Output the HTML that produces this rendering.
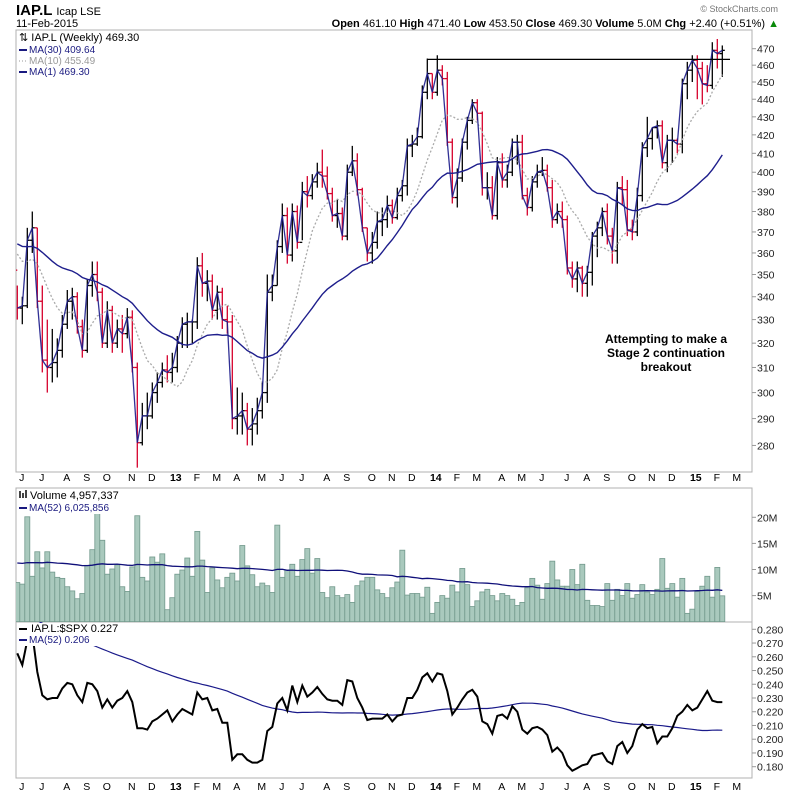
<!DOCTYPE html>
<html><head><meta charset="utf-8"><title>IAP.L Weekly chart</title>
<style>
html,body{margin:0;padding:0;background:#fff;}
svg{display:block;font-family:"Liberation Sans",sans-serif;}
</style></head>
<body>
<svg id="chart" width="800" height="795" viewBox="0 0 800 795" xmlns="http://www.w3.org/2000/svg">
<defs>
<clipPath id="clipPrice"><rect x="16" y="30" width="736" height="442"/></clipPath>
<clipPath id="clipVol"><rect x="16" y="488" width="736" height="134"/></clipPath>
<clipPath id="clipRatio"><rect x="16" y="622" width="736" height="156"/></clipPath>
</defs>
<rect x="0" y="0" width="800" height="795" fill="#fff"/>
<text x="16" y="15" font-size="15" font-weight="bold" fill="#000">IAP.L <tspan font-size="11" font-weight="normal">Icap LSE</tspan></text>
<text x="16" y="27" font-size="11" fill="#000">11-Feb-2015</text>
<text x="778" y="12" font-size="9" fill="#777" text-anchor="end">© StockCharts.com</text>
<text x="779" y="27" font-size="11" fill="#000" text-anchor="end"><tspan font-weight="bold">Open</tspan> 461.10 <tspan font-weight="bold">High</tspan> 471.40 <tspan font-weight="bold">Low</tspan> 453.50 <tspan font-weight="bold">Close</tspan> 469.30 <tspan font-weight="bold">Volume</tspan> 5.0M <tspan font-weight="bold">Chg</tspan> +2.40 (+0.51%) <tspan fill="#0a8a0a">▲</tspan></text>

<rect x="16" y="30" width="736" height="442" fill="none" stroke="#b0b0b0"/>
<rect x="16" y="488" width="736" height="134" fill="none" stroke="#b0b0b0"/>
<rect x="16" y="622" width="736" height="156" fill="none" stroke="#b0b0b0"/>

<g id="priceG" clip-path="url(#clipPrice)"></g>
<g id="volG" clip-path="url(#clipVol)"></g>
<g id="ratioG" clip-path="url(#clipRatio)"></g>
<g id="axisG"></g>

<g font-size="10">
<rect x="17" y="31" width="148" height="50" fill="#fff"/>
<text x="19" y="41" fill="#000" font-size="11">⇅ IAP.L (Weekly) 469.30</text>
<line x1="19" y1="50" x2="27" y2="50" stroke="#1a1a80" stroke-width="2"/><text x="29" y="53" fill="#1a1a80">MA(30) 409.64</text>
<line x1="19" y1="61" x2="27" y2="61" stroke="#999" stroke-width="1" stroke-dasharray="1,2"/><text x="29" y="64" fill="#999">MA(10) 455.49</text>
<line x1="19" y1="72" x2="27" y2="72" stroke="#1a1a80" stroke-width="2"/><text x="29" y="75" fill="#1a1a80">MA(1) 469.30</text>
</g>
<g>
<rect x="17" y="489" width="115" height="25" fill="#fff"/>
<rect x="19" y="491" width="2" height="7" fill="#444"/><rect x="22" y="493" width="2" height="5" fill="#444"/><rect x="25" y="490" width="2" height="8" fill="#444"/>
<text x="30" y="499" font-size="11" fill="#000">Volume 4,957,337</text>
<line x1="19" y1="508" x2="27" y2="508" stroke="#1a1a80" stroke-width="2"/><text x="29" y="511" font-size="10" fill="#1a1a80">MA(52) 6,025,856</text>
</g>
<g>
<rect x="17" y="623" width="112" height="23" fill="#fff"/>
<line x1="19" y1="629" x2="27" y2="629" stroke="#000" stroke-width="2"/><text x="31" y="632" font-size="11" fill="#000">IAP.L:$SPX 0.227</text>
<line x1="19" y1="640" x2="27" y2="640" stroke="#1a1a80" stroke-width="2"/><text x="29" y="643" font-size="10" fill="#1a1a80">MA(52) 0.206</text>
</g>
<g font-size="12" font-weight="bold" fill="#000" text-anchor="middle">
<text x="666" y="343">Attempting to make a</text>
<text x="666" y="357">Stage 2 continuation</text>
<text x="666" y="371">breakout</text>
</g>

<script>
var priorCloses = [372,370,368,366,369,372,375,371,366,362,360,364,368,370,366,362,358,361,365,368,370,366,362,360,364,366,362,358,352];
var closes = [335,336,366,372,338,313,310,312,317,328,
338,340,327,317,345,350,342,320,334,320,
326,324,331,310,281,291,291,300,304,309,
308,310,320,328,329,329,354,346,347,334,
342,330,329,290,291,293,286,288,293,300,
342,345,363,378,359,380,365,390,388,395,
400,398,389,378,379,368,400,406,391,372,
360,365,375,376,383,377,388,393,414,415,
419,444,455,444,457,452,416,387,397,416,
428,438,432,392,392,378,405,396,400,416,
416,388,382,395,400,401,392,376,380,376,
353,348,353,346,351,368,372,380,368,361,
392,391,371,370,388,413,418,424,425,405,
417,417,415,449,457,463,458,449,448,469,
467,469];
var highs = [345,340,372,380,372,345,330,326,322,332,
343,344,342,330,348,356,356,344,338,336,
330,332,335,334,312,296,300,304,308,312,
315,316,323,331,333,330,358,360,352,350,
345,344,336,332,302,300,296,294,298,304,
350,350,366,384,382,384,383,395,398,399,
405,412,403,392,386,382,404,414,410,392,
372,370,380,382,388,386,392,396,418,420,
424,448,464,455,466,460,456,418,402,418,
430,440,440,433,400,398,408,410,404,418,
420,420,392,398,404,408,404,396,384,385,
378,356,356,354,354,370,375,382,384,372,
395,398,396,376,392,416,430,424,428,428,
420,424,418,452,462,466,466,462,460,474,
476,472];
var lows = [330,328,335,360,335,308,300,304,306,314,
326,330,324,314,316,340,338,318,318,316,
318,316,322,308,272,280,286,290,296,302,
304,304,308,318,318,320,326,340,338,330,
330,326,324,286,284,284,280,280,284,290,
296,338,345,360,355,356,362,366,382,386,
392,392,386,375,372,366,366,398,388,370,
356,355,362,368,372,374,376,385,388,408,
414,418,440,440,442,448,414,384,382,395,
412,426,428,388,386,376,376,392,392,398,
404,386,378,380,392,398,390,372,374,372,
350,344,342,340,340,345,358,368,364,355,
355,383,368,366,368,385,408,412,418,402,
400,405,410,410,440,450,440,437,444,446,
458,453];
var priorVolume = [11,12,10,13,11,9,12,14,10,11,12,9,13,11,10,12,11,14,10,9,12,11,13,10,11,12,9,11,13,12,10,11,12,14,9,10,12,11,13,12,10,11,12,13,11,10,12,11,12,11,12];
var volumes = [7.5,7.2,20.1,8.7,13.4,10.3,13.4,9.5,8.5,8.3,
6.7,5.9,4.4,5.4,10.8,13.8,21.2,15.6,9.1,10.1,
10.9,6.7,5.8,10.5,20.3,8.5,7.8,12.4,11.4,13.0,
2.3,4.6,9.1,9.9,12.2,8.7,17.3,11.8,5.6,10.3,
8.0,6.5,8.5,9.3,7.8,14.6,10.7,9.0,6.7,7.4,
6.9,5.6,18.5,8.5,9.9,11.0,8.7,11.9,14.0,9.3,
12.1,5.6,4.6,6.7,5.0,4.6,5.2,3.7,6.9,7.8,
8.5,8.5,6.1,5.4,4.6,6.5,7.6,13.7,5.1,5.4,
5.4,4.7,6.6,1.6,3.7,5.0,4.5,7.0,5.7,10.2,
7.1,2.9,4.0,5.7,6.2,5.0,4.0,5.4,5.0,4.3,
3.1,3.7,6.5,8.3,7.0,4.3,7.3,11.6,8.0,6.8,
6.8,10.0,7.1,11.0,4.1,3.1,3.1,2.9,7.3,4.1,
6.2,5.0,7.3,4.5,5.2,7.1,5.7,5.2,6.2,12.1,
6.4,7.3,4.7,8.3,1.6,2.4,5.8,6.8,8.7,4.7,
10.4,4.96];
var priorRatio = [0.335,0.332,0.330,0.334,0.328,0.325,0.327,0.322,0.318,0.320,0.316,0.312,0.315,0.310,0.306,0.308,0.304,0.300,0.303,0.298,0.296,0.299,0.294,0.290,0.292,0.288,0.286,0.289,0.284,0.282,0.285,0.280,0.278,0.281,0.276,0.274,0.277,0.272,0.270,0.273,0.268,0.266,0.269,0.264,0.262,0.265,0.260,0.258,0.262,0.260,0.258];
var ratio = [0.2625,0.254,0.272,0.277,0.249,0.232,0.229,0.230,0.230,0.237,
0.241,0.240,0.232,0.227,0.241,0.240,0.235,0.223,0.229,0.223,
0.228,0.230,0.235,0.227,0.208,0.208,0.207,0.213,0.215,0.218,
0.221,0.213,0.218,0.222,0.220,0.218,0.234,0.229,0.230,0.221,
0.222,0.212,0.212,0.185,0.189,0.189,0.185,0.183,0.183,0.185,
0.206,0.209,0.226,0.230,0.221,0.239,0.227,0.239,0.231,0.234,
0.238,0.233,0.229,0.228,0.228,0.225,0.243,0.242,0.230,0.223,
0.214,0.215,0.215,0.215,0.218,0.213,0.217,
0.218,0.230,0.230,0.236,0.245,0.248,0.242,0.248,0.247,0.235,
0.218,0.223,0.229,0.234,0.236,0.231,0.213,0.211,0.204,0.217,
0.218,0.215,0.224,0.220,0.207,0.204,0.208,0.209,0.207,0.203,
0.191,0.194,0.190,0.181,0.177,0.179,0.181,0.182,0.188,0.189,
0.190,0.184,0.182,0.195,0.198,0.190,0.195,0.207,0.211,0.208,
0.209,0.197,0.202,0.202,0.208,0.217,0.220,0.225,0.221,0.223,
0.229,0.235,0.228,0.227,0.227];
var priceTicks = [280,290,300,310,320,330,340,350,360,370,380,390,400,410,420,430,440,450,460,470];
var volTicks = [5,10,15,20];
var volTickLabels = ["5M","10M","15M","20M"];
var ratioTicks = [0.18,0.19,0.20,0.21,0.22,0.23,0.24,0.25,0.26,0.27,0.28];
var monthLabels = ["J","J","A","S","O","N","D","13","F","M","A","M","J","J","A","S","O","N","D","14","F","M","A","M","J","J","A","S","O","N","D","15","F","M"];
var monthWeeks = [0.9,4.9,9.9,13.9,17.9,22.9,26.9,31.7,35.9,39.9,43.9,48.9,52.9,56.9,61.9,65.9,70.9,74.9,78.9,83.7,87.9,91.9,96.9,100.9,104.9,109.9,113.9,117.9,122.9,126.9,130.9,135.7,139.9,143.9];
var resistanceLevel = 463.5;
var resistanceStart = 82;

var NS = "http://www.w3.org/2000/svg";
function xS(i){ return 17.3 + 5*i; }
function yP(p){ return 48.7 + 766*Math.log(470/p); }
function yV(v){ return 621.7 - 5.22*v; }
function yR(r){ return 629.3 + (0.280 - r)*1374; }
function mk(tag, attrs, parent){
  var e = document.createElementNS(NS, tag);
  for (var k in attrs) e.setAttribute(k, attrs[k]);
  parent.appendChild(e); return e;
}
function sma(prior, data, n){
  var all = prior.concat(data), out = [];
  for (var i = prior.length; i < all.length; i++){
    var s = 0, c = 0;
    for (var j = Math.max(0, i-n+1); j <= i; j++){ s += all[j]; c++; }
    out.push(s/c);
  }
  return out;
}
function pathFrom(vals, yf){
  var d = "";
  for (var i = 0; i < vals.length; i++) d += (i ? "L" : "M") + xS(i).toFixed(1) + "," + yf(vals[i]).toFixed(1);
  return d;
}
var pG = document.getElementById("priceG");
var vG = document.getElementById("volG");
var rG = document.getElementById("ratioG");
var aG = document.getElementById("axisG");

for (var i = 0; i < closes.length; i++){
  var open = i ? closes[i-1] : priorCloses[priorCloses.length-1];
  var col = closes[i] < open ? "#d6002b" : "#000";
  var g = mk("g", {}, pG);
  
  
  var x = xS(i);
  mk("line", {x1:x, y1:yP(highs[i]), x2:x, y2:yP(lows[i]), stroke:col, "stroke-width":1.3}, g);
  mk("line", {x1:x-2.5, y1:yP(open), x2:x, y2:yP(open), stroke:col, "stroke-width":1.3}, g);
  mk("line", {x1:x, y1:yP(closes[i]), x2:x+2.5, y2:yP(closes[i]), stroke:col, "stroke-width":1.3}, g);
}
var ma10 = sma(priorCloses, closes, 10);
var ma30 = sma(priorCloses, closes, 30);
var l10 = mk("path", {d:pathFrom(ma10, yP), fill:"none", stroke:"#aaa", "stroke-width":1.3, "stroke-dasharray":"2,2"}, pG);


var l30 = mk("path", {d:pathFrom(ma30, yP), fill:"none", stroke:"#1e1e8c", "stroke-width":1.4}, pG);


var l1 = mk("path", {d:pathFrom(closes, yP), fill:"none", stroke:"#1a1a8a", "stroke-width":1.3, opacity:0.9}, pG);


var rl = mk("line", {x1:xS(resistanceStart), y1:yP(resistanceLevel), x2:730, y2:yP(resistanceLevel), stroke:"#000", "stroke-width":1.2}, pG);



for (var i = 0; i < volumes.length; i++){
  var b = mk("rect", {x:xS(i)-2.5, y:yV(volumes[i]), width:5, height:621.7-yV(volumes[i]), fill:"#a9c9bd", stroke:"#72998c", "stroke-width":0.8}, vG);
  
  
}
var vma = sma(priorVolume, volumes, 52);
var vm = mk("path", {d:pathFrom(vma, yV), fill:"none", stroke:"#10107a", "stroke-width":1.3}, vG);



var rma = sma(priorRatio, ratio, 52);
var rm = mk("path", {d:pathFrom(rma, yR), fill:"none", stroke:"#1a1a8a", "stroke-width":1.2}, rG);


var rl2 = mk("path", {d:pathFrom(ratio, yR), fill:"none", stroke:"#000", "stroke-width":2}, rG);



for (var k = 0; k < priceTicks.length; k++){
  var y = yP(priceTicks[k]);
  mk("line", {x1:752, y1:y, x2:756, y2:y, stroke:"#999"}, aG);
  var t = mk("text", {x:757, y:y+4, "font-size":10.5, fill:"#222"}, aG);
  
  
  t.textContent = priceTicks[k];
}
for (var k = 0; k < volTicks.length; k++){
  var y = yV(volTicks[k]);
  mk("line", {x1:752, y1:y, x2:756, y2:y, stroke:"#999"}, aG);
  var t = mk("text", {x:757, y:y+4, "font-size":10.5, fill:"#222"}, aG);
  
  
  t.textContent = volTickLabels[k];
}
for (var k = 0; k < ratioTicks.length; k++){
  var y = yR(ratioTicks[k]);
  mk("line", {x1:752, y1:y, x2:756, y2:y, stroke:"#999"}, aG);
  var t = mk("text", {x:757, y:y+4, "font-size":10.5, fill:"#222"}, aG);
  
  
  t.textContent = ratioTicks[k].toFixed(3);
}
var axisRows = [481, 790];
for (var r = 0; r < axisRows.length; r++){
  for (var k = 0; k < monthLabels.length; k++){
    var x = xS(monthWeeks[k]);
    var bold = /\d/.test(monthLabels[k]);
    var t = mk("text", {x:x, y:axisRows[r], "font-size":10.5, fill:"#000", "text-anchor":"middle", "font-weight":bold ? "bold" : "normal"}, aG);
    
    
    t.textContent = monthLabels[k];
  }
}
</script>
</svg>
</body></html>
